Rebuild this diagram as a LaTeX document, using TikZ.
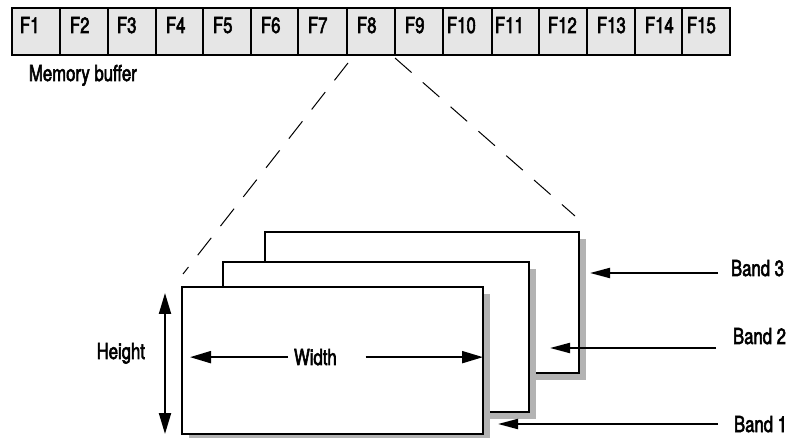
\documentclass[tikz,border=0pt]{standalone}
\usepackage{fontspec}
\setmainfont{TeX Gyre Heros}[FakeStretch=0.76, FakeBold=2.5]
\usetikzlibrary{arrows.meta,shadows}
\definecolor{cellgray}{HTML}{E6E6E6}
\definecolor{shadowgray}{HTML}{B3B3B3}
\begin{document}
\begin{tikzpicture}[x=1pt,y=-1pt,
  font=\fontsize{22}{26}\selectfont,
  cell/.style={draw=black, line width=2pt, fill=cellgray, inner sep=0pt, outer sep=0pt},
  lbl/.style={inner sep=0pt, outer sep=0pt},
  band/.style={draw=black, line width=2pt, fill=white, inner sep=0pt, outer sep=0pt,
    drop shadow={shadow xshift=7pt, shadow yshift=-7pt, fill=shadowgray, opacity=1}},
  dashline/.style={line width=1pt, dash pattern=on 22pt off 15pt},
  bigarr/.style={line width=2pt, -{Triangle[length=21pt,width=12pt]}},
  dblarr/.style={line width=2pt, {Triangle[length=21pt,width=12pt]}-{Triangle[length=21pt,width=12pt]}},
  bandarr/.style={line width=2pt, -{Triangle[length=20pt,width=10pt]}}]
\useasboundingbox (0,0) rectangle (790,438);
% memory buffer cells
\foreach \n/\l/\r/\d in {1/12/60/8, 2/60/108/10, 3/108/156/9, 4/156/203/10, 5/203/251/10,
  6/251/298/10, 7/298/347/10, 8/347/395/10, 9/395/443/10, 10/443/492/4, 11/492/539/3,
  12/539/587/9, 13/587/635/10, 14/635/682/10, 15/682/730/5}{
  \node[cell, anchor=north west, minimum width=\r-\l, minimum height=47] (c\n) at (\l,8) {};
  \node[lbl, anchor=base west] (f\n) at (\l+\d,33) {F\n};
}
\node[lbl, anchor=base west] (mb) at (29,81) {Memory buffer};
% bands
\node[band, anchor=north west, minimum width=314, minimum height=141] (b3) at (265,232) {};
\node[band, anchor=north west, minimum width=306, minimum height=150] (b2) at (223,262) {};
\node[band, anchor=north west, minimum width=301, minimum height=147] (b1) at (182,287) {};
% dashed projection lines
\coordinate (d1) at (183,274);
\coordinate (d2) at (575,216);
\draw[dashline] ([shift={(1,8)}]c8.south west) -- (d1);
\draw[dashline] ([shift={(0,3)}]c8.south east) -- (d2);
% width
\node[lbl, anchor=base west] (wt) at (294,365) {Width};
\draw[bigarr] ([xshift=-6pt]wt.west) -- ([xshift=8pt]b1.west |- wt.west);
\draw[bigarr] ([xshift=29pt]wt.east) -- (b1.east |- wt.east);
% height
\coordinate (ht) at (165,293);
\coordinate (hb) at (165,434);
\draw[dblarr] (ht) -- (hb);
\node[lbl, anchor=base east] (hl) at (145,359) {Height};
% band labels
\node[lbl, anchor=base west] (l3) at (731,276) {Band 3};
\node[lbl, anchor=base west] (l2) at (733,344) {Band 2};
\node[lbl, anchor=base west] (l1) at (734,432) {Band 1};
\coordinate (s3) at (718,273); \coordinate (t3) at (590,273);
\coordinate (s2) at (716,348); \coordinate (t2) at (550,348);
\coordinate (s1) at (718,424); \coordinate (t1) at (498,424);
\draw[bandarr] (s3) -- (t3);
\draw[bandarr] (s2) -- (t2);
\draw[bandarr] (s1) -- (t1);
\end{tikzpicture}
\end{document}
